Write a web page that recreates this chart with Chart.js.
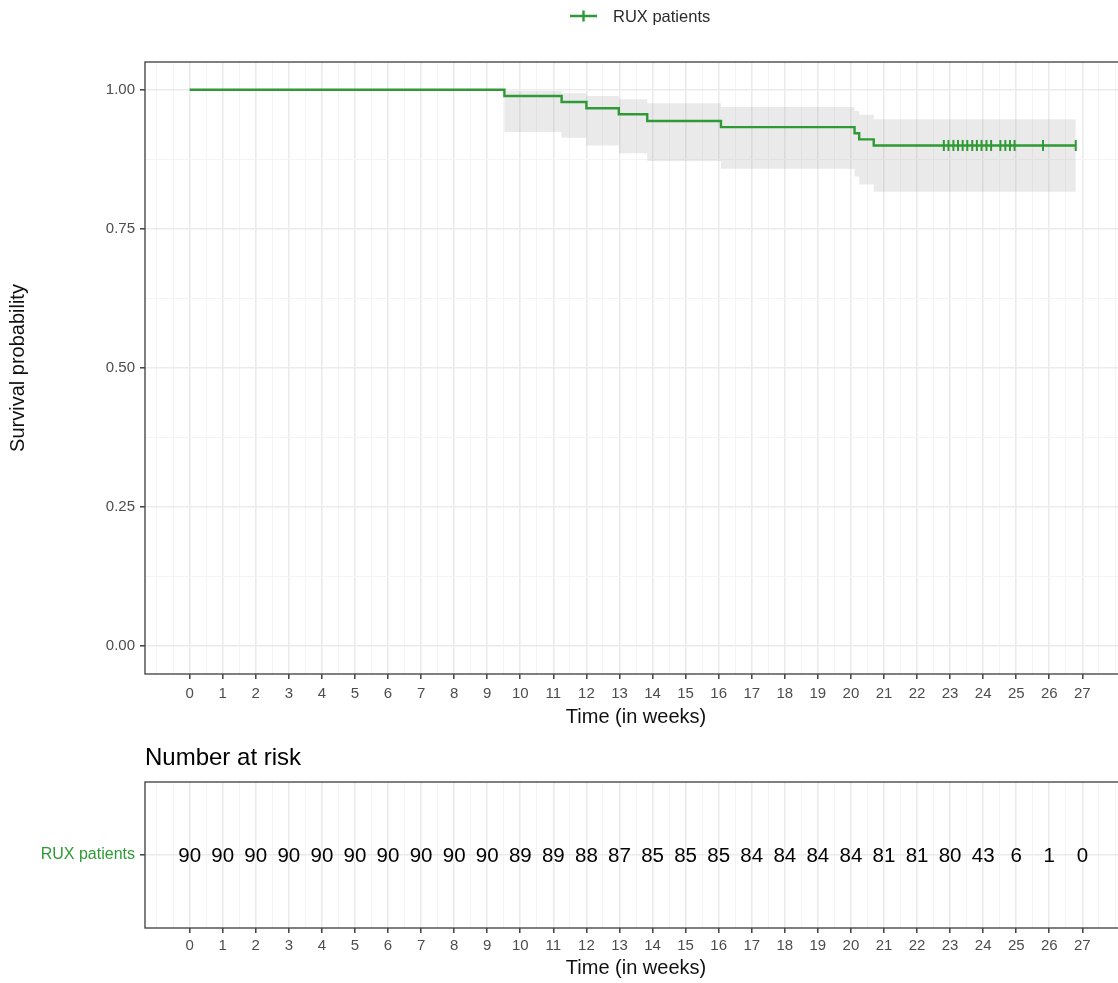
<!DOCTYPE html>
<html>
<head>
<meta charset="utf-8">
<title>Kaplan-Meier: RUX patients</title>
<script src="https://cdn.jsdelivr.net/npm/chart.js@4.4.1/dist/chart.umd.min.js"></script>
<style>
  html, body { margin: 0; padding: 0; background: #ffffff; width: 1118px; height: 983px; overflow: hidden; }
  #kmBox   { position: absolute; left: 0; top: 0;     width: 1127px; height: 735px; }
  #riskBox { position: absolute; left: 0; top: 735px; width: 1127px; height: 248px; }
</style>
</head>
<body>
<div id="kmBox"><canvas id="km"></canvas></div>
<div id="riskBox"><canvas id="risk"></canvas></div>
<script>
// ---- data ----------------------------------------------------------------
const seriesName = 'RUX patients';

// Kaplan-Meier estimate: time (weeks) at which each step starts, and survival from then on
const stepTimes = [0, 9.52, 11.25, 12.0, 12.98, 13.84, 16.07, 20.11, 20.25, 20.69, 26.80];
const survival  = [1.000, 0.989, 0.978, 0.967, 0.956, 0.944, 0.933, 0.922, 0.911, 0.900, 0.900];
// 95% confidence band (log-log)
const upperCI   = [1.000, 0.998, 0.994, 0.989, 0.983, 0.976, 0.969, 0.962, 0.955, 0.947, 0.947];
const lowerCI   = [1.000, 0.924, 0.914, 0.900, 0.886, 0.872, 0.858, 0.844, 0.830, 0.817, 0.817];

// censored observations (weeks)
const censorTimes = [22.81, 22.95, 23.10, 23.24, 23.38, 23.52, 23.67, 23.81, 23.95, 24.10, 24.24,
                     24.52, 24.67, 24.81, 24.95, 25.81, 26.80];

// number at risk at each whole week
const riskWeeks = [0, 1, 2, 3, 4, 5, 6, 7, 8, 9, 10, 11, 12, 13, 14, 15, 16, 17, 18, 19, 20, 21, 22, 23, 24, 25, 26, 27];
const atRisk    = [90, 90, 90, 90, 90, 90, 90, 90, 90, 90, 89, 89, 88, 87, 85, 85, 85, 84, 84, 84, 84, 81, 81, 80, 43, 6, 1, 0];

// axis tick labels
const weekTicks = riskWeeks.slice();
const survivalTicks = [0, 0.25, 0.5, 0.75, 1];

// ---- styling -------------------------------------------------------------
const GREEN = '#2f9a35';
const FONT = "'Liberation Sans', Arial, Helvetica, sans-serif";
const GRID_MAJOR = '#ebebeb';
const GRID_MINOR = '#f4f4f4';
const TICK_MARK = '#333333';

// grid breaks every half week (majors on whole weeks), every 1/8 on the survival axis
const weekGrid = [];
for (let v = -1; v <= 28; v += 0.5) weekGrid.push(v);
const survGrid = [];
for (let v = 0; v <= 1.0001; v += 0.125) survGrid.push(Math.round(v * 1000) / 1000);

const isWeekMajor = v => weekTicks.includes(v);
const isSurvMajor = v => survivalTicks.includes(v);

function weekAxis(scaleHeight, titlePadBottom, labelPad) {
  return {
    type: 'linear',
    min: -1.35,
    max: 28.35,
    afterBuildTicks: s => { s.ticks = weekGrid.map(v => ({ value: v })); },
    afterFit: s => { s.height = scaleHeight; },
    ticks: {
      autoSkip: false,
      maxRotation: 0,
      padding: labelPad,
      color: '#4d4d4d',
      font: { family: FONT, size: 15 },
      callback: v => (isWeekMajor(v) ? String(v) : '')
    },
    grid: {
      drawTicks: true,
      tickLength: 5,
      color: c => (isWeekMajor(c.tick.value) ? GRID_MAJOR : GRID_MINOR),
      lineWidth: c => (isWeekMajor(c.tick.value) ? 1.6 : 1),
      tickColor: c => (isWeekMajor(c.tick.value) ? TICK_MARK : 'rgba(0,0,0,0)'),
      tickWidth: 1.4
    },
    border: { display: false },
    title: {
      display: true,
      text: 'Time (in weeks)',
      color: '#111111',
      font: { family: FONT, size: 20 },
      padding: { top: 0, bottom: titlePadBottom }
    }
  };
}

// panel frame (drawn over the data, like a plot border)
const framePlugin = {
  id: 'frame',
  afterDraw(chart) {
    const a = chart.chartArea, ctx = chart.ctx;
    ctx.save();
    ctx.strokeStyle = '#4a4a4a';
    ctx.lineWidth = 1.4;
    ctx.strokeRect(a.left, a.top, a.right - a.left, a.bottom - a.top);
    ctx.restore();
  }
};

// legend above the survival panel: line with a censor tick, then the series name
const keyPlugin = {
  id: 'kmKey',
  afterDraw(chart, args, opts) {
    if (!opts || !opts.text) return;
    const a = chart.chartArea, ctx = chart.ctx;
    const cx = (a.left + a.right) / 2;
    const y = 16;
    ctx.save();
    ctx.strokeStyle = GREEN;
    ctx.lineWidth = 2.4;
    ctx.beginPath();
    ctx.moveTo(cx - 66, y); ctx.lineTo(cx - 39, y);
    ctx.moveTo(cx - 52.5, y - 5.5); ctx.lineTo(cx - 52.5, y + 5.5);
    ctx.stroke();
    ctx.fillStyle = '#2b2b2b';
    ctx.font = '16.5px ' + FONT;
    ctx.textAlign = 'left';
    ctx.textBaseline = 'middle';
    ctx.fillText(opts.text, cx - 23, y + 1);
    ctx.restore();
  }
};

// heading over the risk table
const headingPlugin = {
  id: 'heading',
  afterDraw(chart, args, opts) {
    if (!opts || !opts.text) return;
    const ctx = chart.ctx;
    ctx.save();
    ctx.fillStyle = '#000000';
    ctx.font = '24px ' + FONT;
    ctx.textAlign = 'left';
    ctx.textBaseline = 'middle';
    ctx.fillText(opts.text, chart.chartArea.left, opts.y);
    ctx.restore();
  }
};

// numbers at risk written at each point of the risk dataset
const riskTextPlugin = {
  id: 'riskText',
  afterDatasetsDraw(chart) {
    const meta = chart.getDatasetMeta(0);
    const ds = chart.data.datasets[0];
    const ctx = chart.ctx;
    ctx.save();
    ctx.fillStyle = '#000000';
    ctx.font = '20.5px ' + FONT;
    ctx.textAlign = 'center';
    ctx.textBaseline = 'middle';
    meta.data.forEach((pt, i) => ctx.fillText(String(ds.data[i].n), pt.x, pt.y + 1));
    ctx.restore();
  }
};

const toXY = (xs, ys) => xs.map((x, i) => ({ x, y: ys[i] }));

// ---- survival curve ------------------------------------------------------
new Chart(document.getElementById('km'), {
  type: 'line',
  data: {
    datasets: [
      {
        label: 'upper',
        data: toXY(stepTimes, upperCI),
        stepped: true,
        borderWidth: 0,
        pointRadius: 0,
        fill: false,
        order: 3
      },
      {
        label: 'lower',
        data: toXY(stepTimes, lowerCI),
        stepped: true,
        borderWidth: 0,
        pointRadius: 0,
        fill: '-1',
        backgroundColor: 'rgba(150,150,150,0.2)',
        order: 2
      },
      {
        label: seriesName,
        data: toXY(stepTimes, survival),
        stepped: true,
        borderColor: GREEN,
        borderWidth: 2.4,
        pointRadius: 0,
        fill: false,
        order: 1
      },
      {
        label: seriesName + ' (censored)',
        data: censorTimes.map(t => ({ x: t, y: survival[survival.length - 1] })),
        showLine: false,
        pointStyle: 'line',
        rotation: 90,
        pointRadius: 5.5,
        pointBorderWidth: 2,
        pointBorderColor: GREEN,
        borderColor: GREEN,
        order: 0
      }
    ]
  },
  options: {
    responsive: true,
    maintainAspectRatio: false,
    animation: false,
    devicePixelRatio: 1,
    layout: { autoPadding: false, padding: { top: 62, left: 0, right: 0, bottom: 0 } },
    plugins: {
      legend: { display: false },
      tooltip: { enabled: false },
      kmKey: { text: seriesName }
    },
    scales: {
      x: weekAxis(61, 6, 6),
      y: {
        type: 'linear',
        min: -0.05,
        max: 1.05,
        afterBuildTicks: s => { s.ticks = survGrid.map(v => ({ value: v })); },
        afterFit: s => { s.width = 145; },
        ticks: {
          padding: 5,
          color: '#4d4d4d',
          font: { family: FONT, size: 15 },
          callback: v => (isSurvMajor(v) ? v.toFixed(2) : '')
        },
        grid: {
          drawTicks: true,
          tickLength: 5,
          color: c => (isSurvMajor(c.tick.value) ? GRID_MAJOR : GRID_MINOR),
          lineWidth: c => (isSurvMajor(c.tick.value) ? 1.6 : 1),
          tickColor: c => (isSurvMajor(c.tick.value) ? TICK_MARK : 'rgba(0,0,0,0)'),
          tickWidth: 1.4
        },
        border: { display: false },
        title: {
          display: true,
          text: 'Survival probability',
          color: '#111111',
          font: { family: FONT, size: 20 },
          padding: { top: 6, bottom: 0 }
        }
      }
    }
  },
  plugins: [framePlugin, keyPlugin]
});

// ---- number at risk table ------------------------------------------------
new Chart(document.getElementById('risk'), {
  type: 'line',
  data: {
    datasets: [
      {
        label: seriesName,
        data: riskWeeks.map((w, i) => ({ x: w, y: 0, n: atRisk[i] })),
        showLine: false,
        pointRadius: 0
      }
    ]
  },
  options: {
    responsive: true,
    maintainAspectRatio: false,
    animation: false,
    devicePixelRatio: 1,
    layout: { autoPadding: false, padding: { top: 47, left: 0, right: 0, bottom: 0 } },
    plugins: {
      legend: { display: false },
      tooltip: { enabled: false },
      heading: { text: 'Number at risk', y: 23 }
    },
    scales: {
      x: weekAxis(55, 3, 4),
      y: {
        type: 'linear',
        min: -1,
        max: 1,
        afterBuildTicks: s => { s.ticks = [{ value: 0 }]; },
        afterFit: s => { s.width = 145; },
        ticks: {
          padding: 5,
          color: GREEN,
          font: { family: FONT, size: 16 },
          callback: () => seriesName
        },
        grid: {
          drawTicks: true,
          tickLength: 5,
          color: GRID_MAJOR,
          lineWidth: 1.6,
          tickColor: TICK_MARK,
          tickWidth: 1.4
        },
        border: { display: false }
      }
    }
  },
  plugins: [framePlugin, headingPlugin, riskTextPlugin]
});
</script>
</body>
</html>
